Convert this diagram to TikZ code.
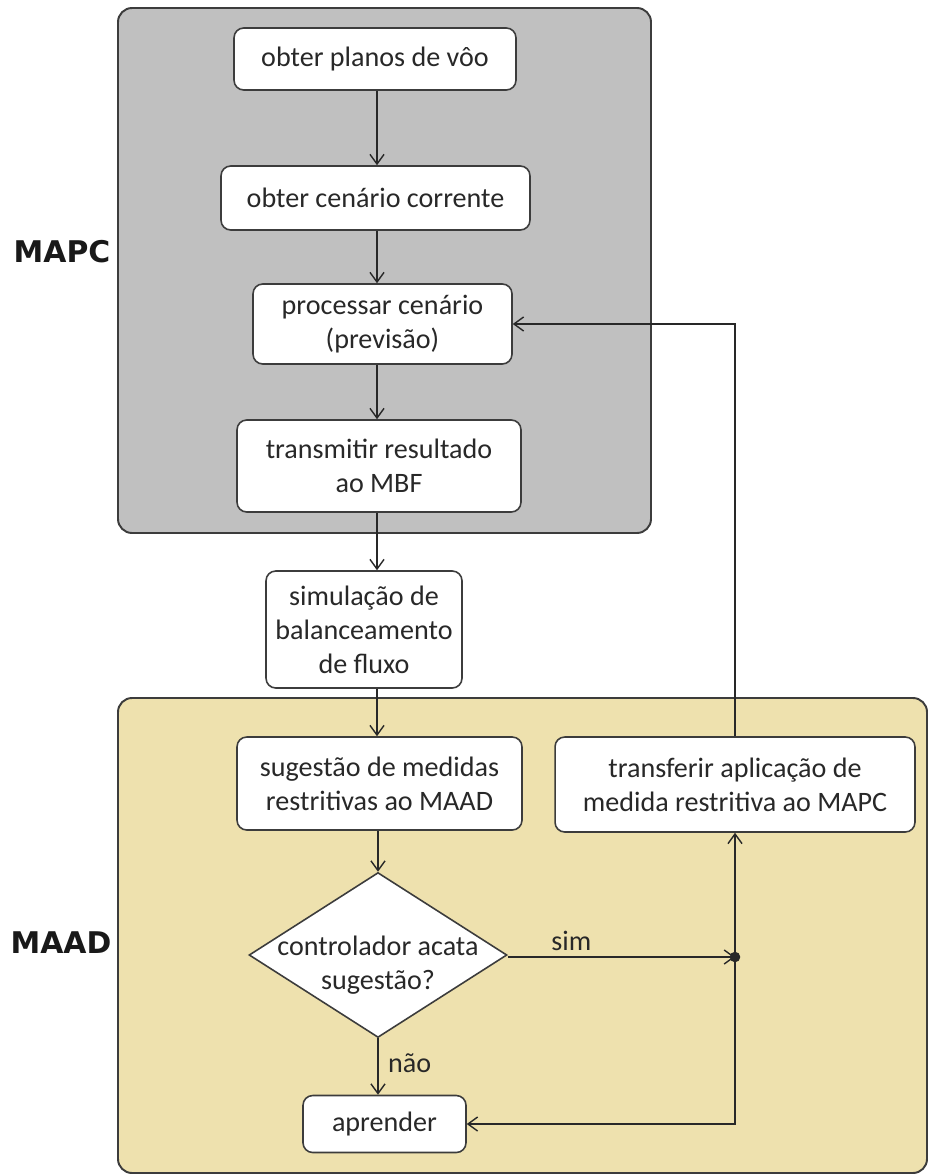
\documentclass[tikz,border=0pt]{standalone}
\usepackage{fontspec}
\setmainfont{Carlito}
\newfontfamily\labelfont{DejaVu Sans}
\usetikzlibrary{arrows.meta,shapes.geometric}
\definecolor{mapcfill}{RGB}{192,192,192}
\definecolor{maadfill}{RGB}{238,225,174}
\definecolor{edge}{RGB}{60,60,60}
\definecolor{ink}{RGB}{40,40,40}

\begin{document}
\begin{tikzpicture}[x=0.02cm,y=-0.02cm,
  box/.style={draw=edge, line width=0.9pt, fill=white, rounded corners=5.5pt,
    align=center, font=\fontsize{16}{19.3}\selectfont, text=ink, inner sep=0pt},
  region/.style={draw=edge, line width=1.1pt, rounded corners=8pt},
  arr/.style={draw=ink, line width=0.8pt, -{Straight Barb[length=5.5pt,width=8pt]}},
  lbl/.style={font=\fontsize{16}{19.3}\selectfont, text=ink},
  side/.style={font=\labelfont\bfseries\fontsize{17}{20}\selectfont, text=black!90}
]
\useasboundingbox (0,0) rectangle (928,1176);
\fill[white] (0,0) rectangle (928,1176);

% the two module areas
\draw[region, fill=mapcfill] (118,8) rectangle (651,533);
\draw[region, fill=maadfill] (118,698) rectangle (927,1173);

\node[side] (mapc) at (62,252) {MAPC};
\node[side] (maad) at (61,943) {MAAD};

% activity boxes
\node[box, minimum width=5.64cm, minimum height=1.24cm] (n1) at (375,59) {obter planos de vôo};
\node[box, minimum width=6.18cm, minimum height=1.28cm] (n2) at (375.5,198) {obter cenário corrente};
\node[box, minimum width=5.18cm, minimum height=1.6cm] (n3) at (382.5,324) {processar cenário\\(previsão)};
\node[box, minimum width=5.68cm, minimum height=1.84cm] (n4) at (379,466) {transmitir resultado\\ao MBF};
\node[box, minimum width=3.92cm, minimum height=2.34cm] (n5) at (364,629.5) {simulação de\\balanceamento\\de fluxo};
\node[box, minimum width=5.7cm, minimum height=1.86cm] (n6) at (379.5,783.5) {sugestão de medidas\\restritivas ao MAAD};
\node[box, minimum width=7.2cm, minimum height=1.9cm] (n7) at (735,784.5) {transferir aplicação de\\medida restritiva ao MAPC};
\node[diamond, draw=edge, line width=0.9pt, fill=white, inner sep=0pt,
  minimum width=5.16cm, minimum height=3.3cm,
  label={[lbl, align=center, yshift=-6pt]center:controlador acata\\sugestão?}] (d) at (378,955) {};
\node[box, minimum width=3.26cm, minimum height=1.14cm] (n9) at (384.5,1124) {aprender};

% flow
\coordinate (sp) at (377,0);
\coordinate (j) at (735,957);
\draw[arr] (n1.south -| sp) -- (n2.north -| sp);
\draw[arr] (n2.south -| sp) -- (n3.north -| sp);
\draw[arr] (n3.south -| sp) -- (n4.north -| sp);
\draw[arr] (n4.south -| sp) -- (n5.north -| sp);
\draw[arr] (n5.south -| sp) -- (n6.north -| sp);
\draw[arr] (n6.south -| d.north) -- (d.north);
\draw[arr] (d.south) -- (d.south |- n9.north) node[lbl, pos=0.45, right, xshift=2pt] {não};
\draw[arr] (d.east |- j) -- (j) node[lbl, pos=0.28, above] {sim};
\fill[ink] (j) circle[radius=3pt];
\draw[arr] (j) -- (n7.south);
\draw[arr] (j) |- (n9.east);
\draw[arr] (n7.north) |- (n3.east);
\end{tikzpicture}
\end{document}
